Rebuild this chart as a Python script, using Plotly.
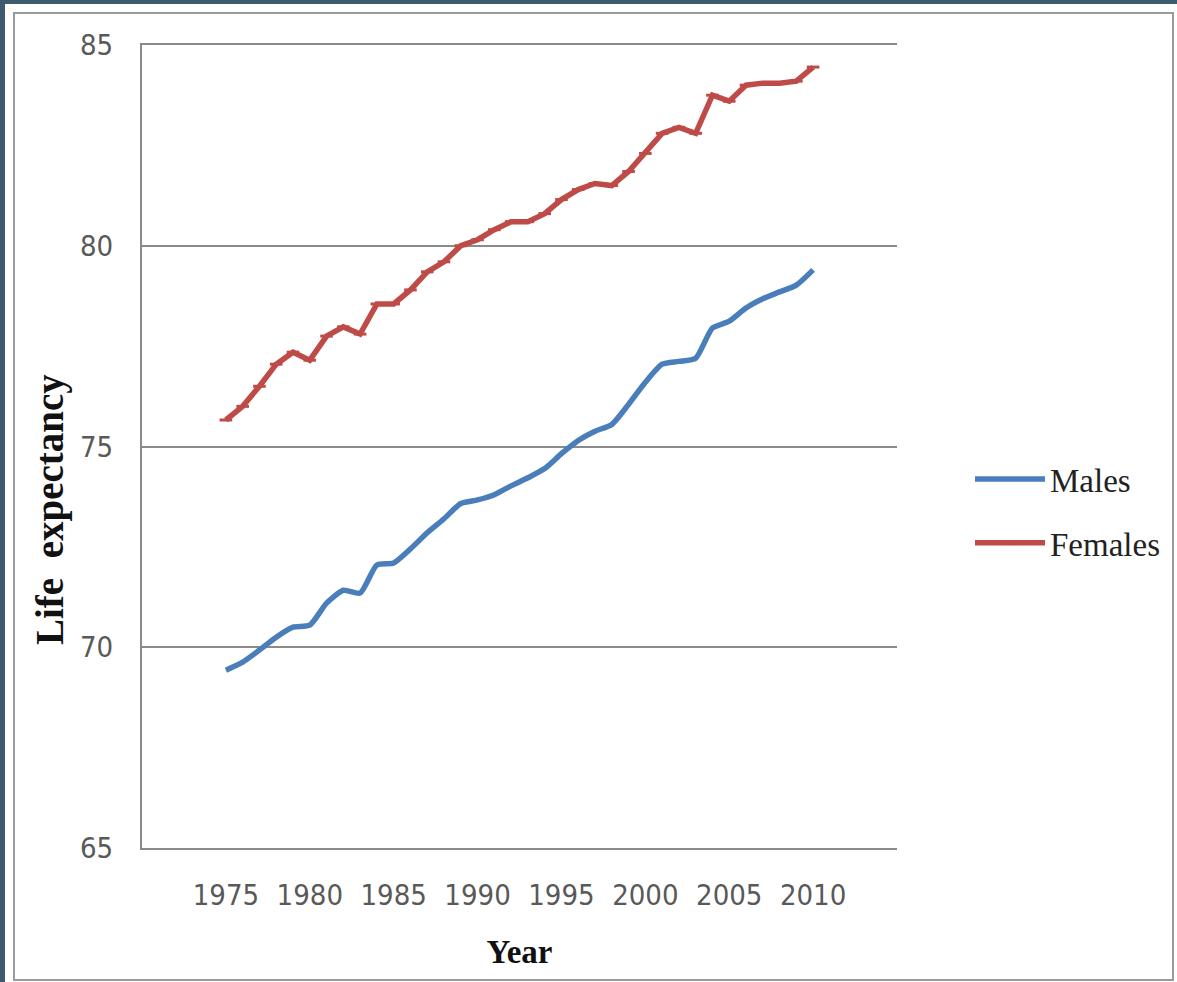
import plotly.graph_objects as go

# Life expectancy at birth, 1975-2010
years = list(range(1975, 2011))
males = [69.43, 69.63, 69.93, 70.25, 70.50, 70.55, 71.10, 71.42, 71.35, 72.05,
         72.10, 72.45, 72.85, 73.20, 73.58, 73.67, 73.80, 74.02, 74.22, 74.45,
         74.82, 75.15, 75.38, 75.55, 76.05, 76.60, 77.05, 77.12, 77.20, 77.95,
         78.12, 78.45, 78.68, 78.85, 79.02, 79.40]
females = [75.66, 76.00, 76.50, 77.05, 77.35, 77.15, 77.75, 77.98, 77.80, 78.55,
           78.55, 78.90, 79.35, 79.60, 80.00, 80.15, 80.40, 80.60, 80.60, 80.80,
           81.15, 81.40, 81.55, 81.50, 81.85, 82.30, 82.80, 82.95, 82.80, 83.75,
           83.60, 84.00, 84.05, 84.05, 84.10, 84.45]

x_ticks = [1975, 1980, 1985, 1990, 1995, 2000, 2005, 2010]
y_ticks = [65, 70, 75, 80, 85]

W, H = 1177, 982
L, R, T, B = 142, 280, 45, 134
PW, PH = W - L - R, H - T - B


def px_x(p):
    return (p - L) / PW


def px_y(p):
    return (H - B - p) / PH


TICK_FONT = dict(family="DejaVu Sans Condensed, Liberation Sans, sans-serif",
                 size=29, color="#595959")
SERIF = "Liberation Serif, Times New Roman, serif"
GRID = "#8a8a8a"

fig = go.Figure()
fig.add_trace(go.Scatter(
    x=years, y=males, name="Males", mode="lines",
    line=dict(color="#4a7ebb", width=5.5, shape="spline", smoothing=0.6),
    legendgroup="m",
))
fig.add_trace(go.Scatter(
    x=years, y=females, name="Females", mode="lines+markers",
    line=dict(color="#be4b48", width=5.5),
    marker=dict(symbol="line-ew-open", size=9, line=dict(color="#8f3431", width=3)),
    legendgroup="f",
))

fig.update_layout(
    width=W, height=H,
    margin=dict(l=L, r=R, t=T, b=B, pad=0),
    paper_bgcolor="#3d5a6e",
    plot_bgcolor="rgba(0,0,0,0)",
    showlegend=True,
    legend=dict(
        x=px_x(970), y=px_y(451), xanchor="left", yanchor="top",
        font=dict(family=SERIF, size=33, color="#222222"),
        bgcolor="rgba(0,0,0,0)", itemwidth=70, tracegroupgap=18,
        traceorder="grouped",
    ),
    xaxis=dict(
        range=[1970, 2015], tickvals=x_ticks, ticktext=[str(v) for v in x_ticks],
        showgrid=False, zeroline=False, showline=True, mirror=True,
        linecolor=GRID, linewidth=2,
        ticks="", tickfont=TICK_FONT, ticklabelstandoff=20,
        title=dict(text="<b>Year</b>", font=dict(family=SERIF, size=33, color="#111111"),
                   standoff=29),
    ),
    yaxis=dict(
        range=[65, 85], tickvals=y_ticks, ticktext=[str(v) for v in y_ticks],
        showgrid=True, gridcolor=GRID, gridwidth=2, zeroline=False,
        showline=True, linecolor=GRID, linewidth=2,
        ticks="", tickfont=TICK_FONT, ticklabelstandoff=21,
    ),
    shapes=[
        dict(type="rect", xref="paper", yref="paper", layer="below",
             x0=px_x(5), x1=px_x(W + 5), y0=px_y(H + 5), y1=px_y(4),
             fillcolor="white", line=dict(width=0)),
        dict(type="rect", xref="paper", yref="paper", layer="below",
             x0=px_x(14), x1=px_x(1173), y0=px_y(980), y1=px_y(13),
             fillcolor="rgba(0,0,0,0)", line=dict(color="#9a9a9a", width=2)),
    ],
    annotations=[
        dict(text="<b>Life  expectancy</b>", xref="paper", yref="paper",
             x=px_x(50), y=px_y(510), textangle=-90, showarrow=False,
             xanchor="center", yanchor="middle",
             font=dict(family=SERIF, size=39, color="#111111")),
    ],
)

fig.write_html("out.html")
